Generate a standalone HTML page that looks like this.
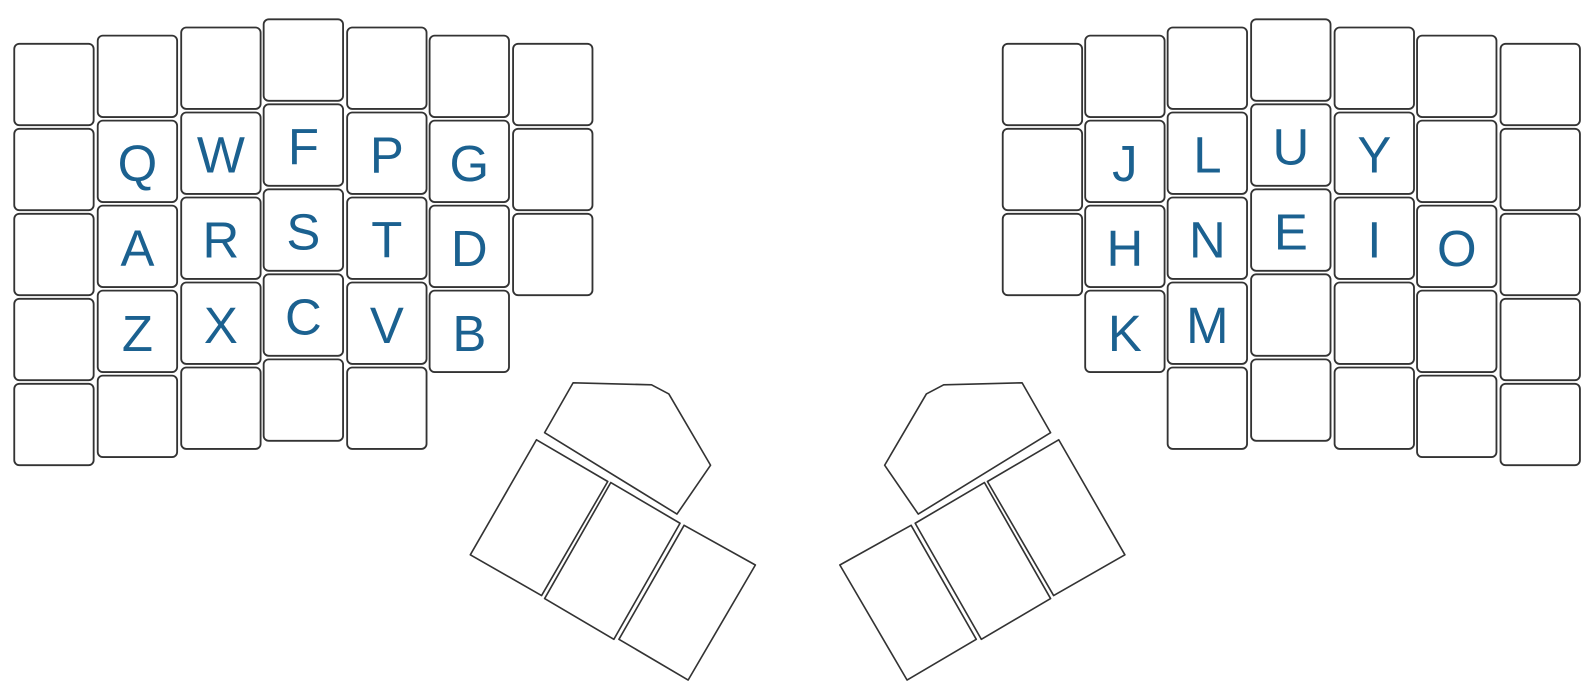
<!DOCTYPE html>
<html><head><meta charset="utf-8">
<style>
html,body{margin:0;padding:0;background:#fff;width:1596px;height:699px;overflow:hidden}
svg{display:block}
text{font-family:"Liberation Sans",sans-serif;font-size:50px;fill:#1b6190;text-anchor:middle;dominant-baseline:central}
</style></head>
<body>
<svg width="1596" height="699" viewBox="0 0 1596 699"><g id="kb" transform="scale(1.018)"></g></svg>
<script>
const leftX=[14,96,178,259,341,422,504];
const leftTop=[43,35,27,19,27,35,43];
const leftRows=[5,5,5,5,5,4,3];
const leftLetters=[[],["","Q","A","Z"],["","W","R","X"],["","F","S","C"],["","P","T","V"],["","G","D","B"],[]];
const rightX=[985,1066,1147,1229,1311,1392,1474];
const rightTop=[43,35,27,19,27,35,43];
const rightRows=[3,4,5,5,5,5,5];
const rightLetters=[[],["","J","H","K"],["","L","N","M"],["","U","E",""],["","Y","I",""],["","","O",""],[]];
const W=78,H=80,PY=83.5;
const svg=document.getElementById('kb');
const NS='http://www.w3.org/2000/svg';
function half(xs,tops,rows,letters,side){
  const g=document.createElementNS(NS,'g');
  
  
  svg.appendChild(g);
  xs.forEach((x,c)=>{
    for(let r=0;r<rows[c];r++){
      const y=tops[c]+r*PY;
      const rect=document.createElementNS(NS,'rect');
      rect.setAttribute('x',x);rect.setAttribute('y',y);
      rect.setAttribute('width',W);rect.setAttribute('height',H);
      rect.setAttribute('rx',5);
      rect.setAttribute('fill','#fff');rect.setAttribute('stroke','#333');rect.setAttribute('stroke-width','1.8');
      const L=(letters[c]||[])[r]||'';
      
      
      g.appendChild(rect);
      if(L){
        const t=document.createElementNS(NS,'text');
        t.setAttribute('x',x+W/2);t.setAttribute('y',y+H/2+2);
        t.textContent=L;
        
        
        g.appendChild(t);
      }
    }
  });
}
half(leftX,leftTop,leftRows,leftLetters,'left');
half(rightX,rightTop,rightRows,rightLetters,'right');
const thumbPolys=[
 "535,425 563,376 640,378 657,387 698,457 665,505",
 "527,432 597,473 532,585 462,545",
 "600,474 668,514 603,628 535,588",
 "672,516 742,555 676,668 608,628"];
const thumbNames=["thumb-top","thumb-inner","thumb-middle","thumb-outer"];
['left','right'].forEach(side=>{
  const g=document.createElementNS(NS,'g');
  
  
  if(side==='right')g.setAttribute('transform','translate(1567,0) scale(-1,1)');
  svg.appendChild(g);
  thumbPolys.forEach((p,i)=>{
    const pl=document.createElementNS(NS,'polygon');
    pl.setAttribute('points',p);
    pl.setAttribute('fill','#fff');pl.setAttribute('stroke','#333');pl.setAttribute('stroke-width','1.6');
    pl.setAttribute('stroke-linejoin','round');
    
    
    g.appendChild(pl);
  });
});
</script>
</body></html>
